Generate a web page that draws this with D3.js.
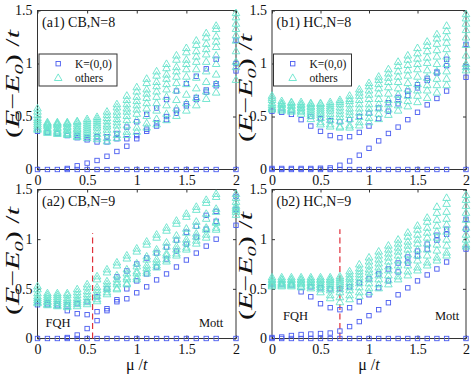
<!DOCTYPE html>
<html><head><meta charset="utf-8">
<script src="https://cdn.jsdelivr.net/npm/d3@7"></script>
<style>body{margin:0;background:#fff}svg{display:block}text{font-family:"Liberation Serif","Times New Roman",serif;fill:#111}</style>
</head><body><svg id="c" width="471" height="374"></svg>
<script>
const xs = [0,0.1,0.2,0.3,0.4,0.5,0.6,0.7,0.8,0.9,1.0,1.1,1.2,1.3,1.4,1.5,1.6,1.7,1.8,1.9,2.0];
const xTicks = [0,0.5,1,1.5,2];
const xTickLabels = ["0","0.5","1","1.5","2"];
const yTicks = [0,0.5,1,1.5];
const yTickLabels = ["0","0.5","1","1.5"];
const titles = ["(a1) CB,N=8","(b1) HC,N=8","(a2) CB,N=9","(b2) HC,N=9"];
const legendLabels = ["K=(0,0)","others"];
const phaseLabels = ["FQH","Mott"];
const transitions = [null,null,{mu:0.555,top:1.06},{mu:0.7,top:1.1}];
const zeros = [0,0,0,0,0,0,0,0,0,0,0,0,0,0,0,0,0,0,0,null,0];

const a1Squares = [
  zeros,
  [null,null,null,0.01,0.035,0.06,0.085,0.125,0.17,0.22,0.29,0.36,0.41,0.47,0.53,0.6,0.66,0.73,0.79,null,0.93],
  [0.36,0.35,0.34,0.32,0.3,0.28,0.26,0.26,0.29,0.29,0.32,0.38,0.44,0.5,0.56,0.62,0.68,0.75,0.81,null,1.0],
  [null,null,null,null,0.32,0.3,0.31,0.31,0.34,0.4,0.45,0.52,0.58,0.66,0.74,0.81,0.88,0.95,1.04,null,1.22]
];
const a1Triangles = [
  [0.58,0.45,0.45,0.45,0.46,0.48,0.5,0.55,0.62,0.7,0.78,0.86,0.93,1.0,1.08,1.15,1.22,1.29,1.36,null,1.48],
  [0.55,0.44,0.44,0.44,0.45,0.46,0.48,0.52,0.59,0.66,0.74,0.82,0.89,0.96,1.04,1.11,1.18,1.25,1.33,null,1.44],
  [0.52,0.43,0.43,0.43,0.43,0.44,0.46,0.49,0.55,0.62,0.69,0.76,0.83,0.9,0.97,1.04,1.12,1.19,1.26,null,1.38],
  [0.49,0.42,0.42,0.41,0.41,0.42,0.44,0.46,0.52,0.58,0.65,0.72,0.79,0.86,0.93,1.0,1.07,1.14,1.21,null,1.33],
  [0.47,0.41,0.4,0.4,0.39,0.4,0.42,0.43,0.48,0.55,0.61,0.68,0.74,0.81,0.88,0.95,1.02,1.09,1.16,null,1.27],
  [0.45,0.39,0.39,0.38,0.38,0.38,0.4,0.41,0.45,0.51,0.57,0.63,0.69,0.76,0.82,0.88,0.95,1.02,1.08,null,1.22],
  [0.43,0.38,0.37,0.37,0.36,0.36,0.37,0.38,0.42,0.47,0.53,0.58,0.63,0.69,0.75,0.81,0.87,0.93,1.0,null,1.12],
  [0.41,0.37,0.36,0.35,0.34,0.34,0.34,0.35,0.38,0.42,0.47,0.51,0.56,0.61,0.66,0.71,0.77,0.83,0.9,null,1.02],
  [0.39,0.36,0.35,0.34,0.32,0.32,0.31,0.3,0.33,0.36,0.4,0.44,0.48,0.53,0.58,0.63,0.68,0.74,0.81,null,0.97],
  [0.38,0.35,0.34,0.33,0.31,0.3,0.29,0.27,0.3,0.33,0.36,0.4,0.43,0.47,0.51,0.56,0.61,0.67,0.73,null,0.85]
];
const b1Squares = [
  zeros,
  [0.01,0.01,0.01,0.01,0.01,0.012,0.015,0.04,0.08,0.135,0.2,0.27,0.34,0.4,0.47,0.54,0.61,0.67,0.74,null,0.87],
  [0.55,0.54,0.52,0.47,0.41,0.36,0.32,0.3,0.31,0.35,0.41,0.48,0.55,0.62,0.7,0.77,0.84,0.91,1.04,null,1.18],
  [null,null,null,null,0.5,0.48,0.46,0.45,0.47,0.5,0.53,0.58,0.63,0.68,0.74,0.8,0.86,0.92,0.98,null,0.97]
];
const b1Triangles = [
  [0.7,0.65,0.64,0.64,0.63,0.63,0.64,0.66,0.7,0.76,0.82,0.88,0.95,1.02,1.08,1.15,1.21,1.28,1.36,null,1.47],
  [0.68,0.63,0.63,0.62,0.62,0.62,0.62,0.64,0.67,0.73,0.79,0.85,0.91,0.98,1.04,1.1,1.17,1.24,1.31,null,1.43],
  [0.66,0.62,0.61,0.61,0.6,0.6,0.6,0.62,0.65,0.7,0.75,0.81,0.87,0.93,0.99,1.05,1.12,1.19,1.25,null,1.38],
  [0.63,0.61,0.6,0.59,0.59,0.58,0.58,0.59,0.62,0.66,0.71,0.77,0.83,0.88,0.94,1.0,1.06,1.13,1.2,null,1.32],
  [0.61,0.59,0.58,0.58,0.57,0.56,0.56,0.56,0.58,0.62,0.67,0.72,0.78,0.83,0.89,0.95,1.01,1.07,1.14,null,1.25],
  [0.59,0.58,0.57,0.56,0.55,0.54,0.53,0.53,0.55,0.58,0.62,0.67,0.72,0.77,0.82,0.88,0.94,1.0,1.07,null,1.18],
  [0.58,0.57,0.56,0.55,0.53,0.52,0.5,0.5,0.52,0.54,0.58,0.62,0.66,0.71,0.76,0.81,0.87,0.93,1.0,null,1.08],
  [0.57,0.56,0.55,0.53,0.51,0.49,0.47,0.46,0.48,0.5,0.54,0.58,0.62,0.66,0.7,0.75,0.8,0.86,0.93,null,1.0],
  [null,null,null,null,0.48,0.45,0.43,0.41,0.42,0.45,0.49,0.53,0.57,0.61,0.65,0.7,0.75,0.8,0.86,null,0.97],
  [null,null,null,null,null,0.43,0.41,0.4,0.4,0.42,0.45,0.48,0.52,0.56,0.6,0.64,0.68,0.73,0.8,null,0.94]
];
const a2Squares = [
  zeros,
  [null,null,null,0.01,0.035,0.1,0.18,0.28,0.37,0.4,0.46,0.52,0.59,0.65,0.72,0.79,0.86,0.93,1.0,null,1.14],
  [0.34,0.34,0.33,0.28,0.25,0.24,0.27,0.3,0.39,0.5,0.58,0.65,0.72,0.8,0.88,0.95,1.02,1.1,1.18,null,1.3],
  [0.37,0.36,0.35,0.34,0.35,0.37,0.42,0.5,0.62,0.68,0.75,0.81,0.86,0.92,0.99,1.07,1.13,1.24,1.28,null,1.43]
];
const a2Triangles = [
  [0.53,0.46,0.46,0.46,0.5,0.55,0.63,0.7,0.77,0.84,0.91,0.98,1.05,1.12,1.19,1.26,1.33,1.4,1.46,null,1.46],
  [0.5,0.44,0.44,0.44,0.47,0.52,0.6,0.67,0.74,0.81,0.88,0.95,1.02,1.09,1.16,1.23,1.3,1.37,1.43,null,1.42],
  [0.46,0.42,0.42,0.41,0.44,0.48,0.52,0.58,0.64,0.7,0.76,0.83,0.9,0.97,1.04,1.11,1.18,1.26,1.31,null,1.38],
  [0.43,0.4,0.4,0.39,0.41,0.45,0.49,0.55,0.6,0.66,0.73,0.8,0.87,0.93,1.0,1.07,1.14,1.21,1.28,null,1.3],
  [0.41,0.38,0.38,0.37,0.39,0.42,0.46,0.52,0.57,0.62,0.68,0.74,0.8,0.86,0.93,1.0,1.06,1.12,1.18,null,1.34],
  [0.39,0.37,0.36,0.35,0.37,0.39,0.43,0.5,0.55,0.6,0.66,0.71,0.77,0.84,0.9,0.97,1.03,1.1,1.17,null,1.32],
  [0.37,0.35,0.34,0.33,0.35,0.37,0.4,0.47,0.51,0.56,0.62,0.68,0.74,0.8,0.86,0.92,0.99,1.05,1.12,null,1.28],
  [0.36,0.34,0.33,0.32,0.33,0.35,0.38,0.45,0.5,0.55,0.6,0.66,0.72,0.78,0.84,0.9,0.96,1.02,1.1,null,1.25]
];
const b2Squares = [
  zeros,
  [0.01,0.015,0.03,0.04,0.045,0.05,0.055,0.075,0.12,0.17,0.23,0.29,0.36,0.44,0.51,0.58,0.64,0.7,0.77,null,0.9],
  [0.55,0.55,0.54,0.47,0.42,0.35,0.31,0.29,0.31,0.37,0.44,0.51,0.58,0.67,0.76,0.83,0.9,0.99,1.1,null,1.2],
  [null,null,null,null,0.52,0.51,0.5,0.5,0.52,0.56,0.6,0.65,0.7,0.76,0.82,0.88,0.95,1.04,1.05,null,1.1]
];
const b2Triangles = [
  [0.62,0.62,0.62,0.62,0.62,0.62,0.62,0.63,0.68,0.75,0.82,0.88,0.94,1.0,1.07,1.14,1.22,1.33,1.42,null,1.45],
  [0.6,0.6,0.6,0.6,0.6,0.6,0.6,0.61,0.65,0.71,0.78,0.84,0.9,0.96,1.03,1.1,1.18,1.27,1.36,null,1.4],
  [0.59,0.59,0.59,0.59,0.59,0.59,0.59,0.59,0.62,0.68,0.74,0.8,0.86,0.92,0.98,1.05,1.12,1.2,1.28,null,1.34],
  [0.57,0.57,0.57,0.57,0.57,0.57,0.57,0.57,0.6,0.65,0.7,0.76,0.82,0.88,0.94,1.0,1.07,1.14,1.21,null,1.27],
  [0.56,0.56,0.56,0.56,0.56,0.55,0.55,0.55,0.57,0.62,0.67,0.72,0.78,0.84,0.9,0.96,1.02,1.08,1.15,null,1.2],
  [0.55,0.55,0.55,0.55,0.54,0.54,0.53,0.53,0.55,0.59,0.63,0.68,0.73,0.79,0.85,0.9,0.96,1.02,1.08,null,1.12],
  [0.54,0.54,0.54,0.53,0.53,0.52,0.51,0.5,0.52,0.56,0.6,0.64,0.69,0.74,0.79,0.84,0.9,0.95,1.0,null,1.05],
  [0.53,0.53,0.53,0.52,0.51,0.5,0.49,0.47,0.49,0.52,0.56,0.6,0.64,0.69,0.74,0.79,0.84,0.89,0.94,null,1.0],
  [null,null,null,null,null,0.47,0.44,0.42,0.44,0.47,0.51,0.55,0.59,0.63,0.68,0.72,0.77,0.82,0.87,null,0.95],
  [null,null,null,null,null,null,0.41,0.37,0.4,0.43,0.47,0.51,0.55,0.6,0.64,0.69,0.74,0.79,0.84,null,0.93]
];

const squaresByPanel = [a1Squares,b1Squares,a2Squares,b2Squares];
const trianglesByPanel = [a1Triangles,b1Triangles,a2Triangles,b2Triangles];

const SQ_COLOR = "#4a5cf0", TRI_COLOR = "#66e3cc", AX = "#333";
const boxes = [
  {l:37.5,r:236,t:10.5,b:169.5},
  {l:272,r:466,t:10.5,b:169.5},
  {l:37.5,r:236,t:189.5,b:338.5},
  {l:272,r:466,t:189.5,b:338.5}
];
const ylabPos = [{x:19,y:84},{x:252,y:88},{x:19,y:261},{x:252,y:266}];
const svg = d3.select("#c");
const triPath = "M0,-3.6L3.8,3L-3.8,3Z";

boxes.forEach((bx,pi)=>{
  const x = d3.scaleLinear().domain([0,2]).range([bx.l,bx.r]);
  const y = d3.scaleLinear().domain([0,1.5]).range([bx.b,bx.t]);
  const g = svg.append("g");
  g.append("rect").attr("x",bx.l).attr("y",bx.t).attr("width",bx.r-bx.l).attr("height",bx.b-bx.t)
    .attr("fill","none").attr("stroke",AX).attr("stroke-width",1);
  const gx = g.append("g").attr("transform",`translate(0,${bx.b})`)
    .call(d3.axisBottom(x).tickValues(xTicks).tickFormat((d,i)=>xTickLabels[i]).tickSizeInner(-3).tickSizeOuter(0).tickPadding(6));
  const gxt = g.append("g").attr("transform",`translate(0,${bx.t})`).call(d3.axisTop(x).tickValues(xTicks).tickFormat("").tickSizeInner(-3).tickSizeOuter(0));
  const gy = g.append("g").attr("transform",`translate(${bx.l},0)`).call(d3.axisLeft(y).tickValues(yTicks).tickFormat((d,i)=>yTickLabels[i]).tickSizeInner(-3).tickSizeOuter(0).tickPadding(5));
  const gyr = g.append("g").attr("transform",`translate(${bx.r},0)`).call(d3.axisRight(y).tickValues(yTicks).tickFormat("").tickSizeInner(-3).tickSizeOuter(0));
  [gx,gxt,gy,gyr].forEach(a=>{
    a.select(".domain").remove();
    a.selectAll("line").attr("stroke",AX);
    a.selectAll("text").attr("font-family","Liberation Serif").attr("font-size",14).attr("fill","#111");
  });
  gx.selectAll("text").attr("dy","0.68em");

  const tr = transitions[pi];
  if(tr){
    g.append("line").attr("x1",x(tr.mu)).attr("x2",x(tr.mu)).attr("y1",y(0)).attr("y2",y(tr.top))
      .attr("stroke","#e0303a").attr("stroke-width",1.2).attr("stroke-dasharray","6,3.5");
  }

  const pts = g.append("g");
  squaresByPanel[pi].forEach(series=>{
    series.forEach((v,i)=>{
      if(v===null) return;
      pts.append("rect").attr("x",x(xs[i])-2.2).attr("y",y(v)-2.2).attr("width",4.4).attr("height",4.4)
        .attr("fill","none").attr("stroke",SQ_COLOR).attr("stroke-width",0.9);
    });
  });
  trianglesByPanel[pi].forEach(series=>{
    series.forEach((v,i)=>{
      if(v===null) return;
      pts.append("path").attr("d",triPath).attr("transform",`translate(${x(xs[i])},${y(v)})`)
        .attr("fill","none").attr("stroke",TRI_COLOR).attr("stroke-width",0.9);
    });
  });

  g.append("text").attr("x",bx.l+4.5).attr("y",bx.t+16.5).attr("font-size",14).text(titles[pi]);

  const lp = ylabPos[pi];
  const ylab = g.append("text").attr("transform",`translate(${lp.x},${lp.y}) rotate(-90)`)
    .attr("text-anchor","middle").attr("font-size",19)
    .attr("textLength",108).attr("lengthAdjust","spacingAndGlyphs");
  ylab.append("tspan").text("(");
  ylab.append("tspan").attr("font-style","italic").text("E");
  ylab.append("tspan").text("\u2212");
  ylab.append("tspan").attr("font-style","italic").text("E");
  ylab.append("tspan").attr("font-style","italic").attr("font-size",13).attr("dy",4).text("0");
  ylab.append("tspan").attr("dy",-4).text(") /");
  ylab.append("tspan").attr("font-style","italic").text("t");

  if(pi<2){
    const lg = g.append("g").attr("transform",`translate(${bx.l+1.5},${bx.t+43.5})`);
    lg.append("rect").attr("width",78).attr("height",32).attr("fill","#fff").attr("stroke",AX).attr("stroke-width",1);
    lg.append("rect").attr("x",17).attr("y",7.5).attr("width",4.4).attr("height",4.4).attr("fill","none").attr("stroke",SQ_COLOR).attr("stroke-width",0.9);
    lg.append("path").attr("d",triPath).attr("transform","translate(19.2,23.5)").attr("fill","none").attr("stroke",TRI_COLOR).attr("stroke-width",0.9);
    lg.append("text").attr("x",36).attr("y",14).attr("font-size",11.5).text(legendLabels[0]);
    lg.append("text").attr("x",36).attr("y",27.5).attr("font-size",11.5).text(legendLabels[1]);
  } else {
    const fy = pi===2 ? bx.t+137 : bx.t+130;
    g.append("text").attr("x",bx.l+(pi===2?8:11)).attr("y",fy).attr("font-size",12.5).text(phaseLabels[0]);
    g.append("text").attr("x",bx.r-(pi===2?37:31)).attr("y",fy).attr("font-size",12.5).text(phaseLabels[1]);
    const xl = g.append("text").attr("x",(bx.l+bx.r)/2).attr("y",370).attr("text-anchor","middle").attr("font-size",16);
    xl.append("tspan").text("\u03bc /");
    xl.append("tspan").attr("font-style","italic").text("t");
  }
});
</script></body></html>
